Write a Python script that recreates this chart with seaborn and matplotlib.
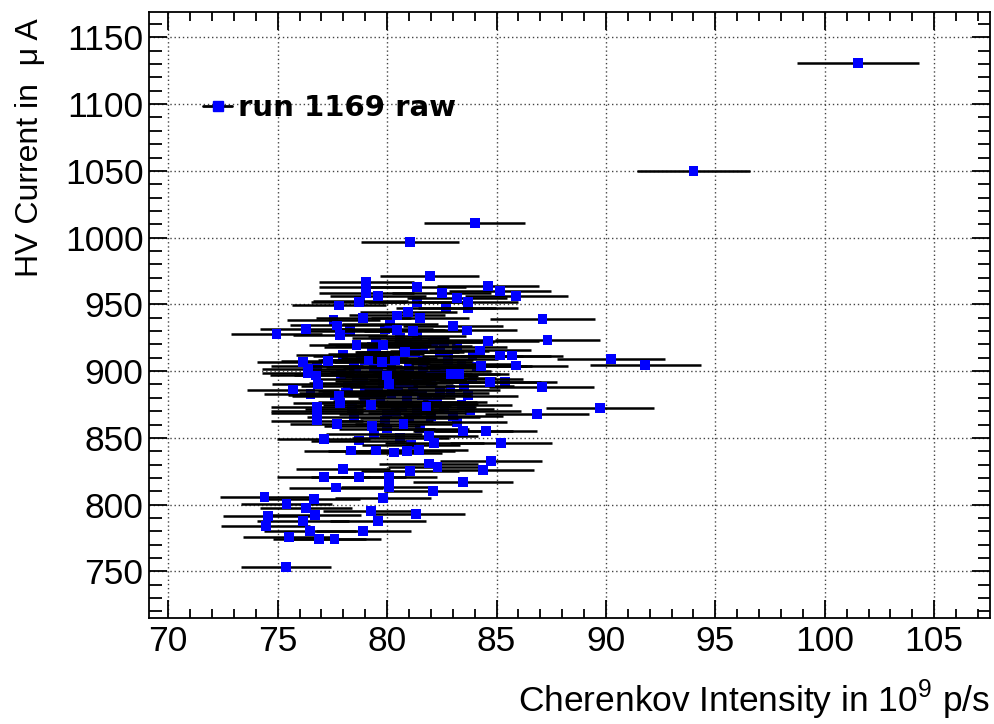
import numpy as np
import pandas as pd
import matplotlib
matplotlib.use("Agg")
import matplotlib.pyplot as plt
import seaborn as sns
from matplotlib.ticker import MultipleLocator
from matplotlib.lines import Line2D

# ---- data: Cherenkov intensity (1e9 p/s) vs HV current (uA) ----
# points in the dense core (largely hidden by the error bars drawn over them)
core_intensity = [
    78.77, 81.35, 82.7, 83.7, 77.55, 80.13, 82.2, 81.05, 81.7, 82.2,
    76.8, 78.5, 80.3, 79.8, 77.6, 76.5, 79.2, 79.6, 81.9, 81.35,
    76.8, 82.6, 82.1, 81.65, 81.3, 83.9, 84.1, 85.4, 83.5, 82.4,
    83.7, 81.85, 83.8, 83.0, 79.9, 81.35, 79.5, 80.75, 79.0, 79.9,
    80.8, 81.65, 81.65, 78.6, 80.5, 81.2, 82.0, 80.9, 79.7, 80.4,
    82.6, 81.0, 79.9, 78.5, 78.2, 78.9, 81.4, 82.7, 80.2, 78.0,
    79.5, 82.8, 80.6, 83.2, 78.3, 79.0, 80.0, 81.5, 83.2,
    79.3, 80.9, 82.4, 78.8, 80.1, 83.4, 79.4, 81.0, 82.5, 77.9,
    79.6, 81.9, 83.9, 78.6, 80.8, 82.9, 78.1, 80.2, 81.6, 79.0,
    82.3, 80.7, 78.4, 83.4, 80.0, 82.0, 79.4, 80.6, 78.7, 81.1,
]
core_current = [
    952.5, 952.0, 947.0, 947.0, 938.0, 935.0, 923.0, 914.0, 908.0, 902.0,
    904.0, 904.0, 895.5, 892.5, 882.0, 883.0, 883.5, 883.5, 875.5, 868.5,
    870.0, 921.7, 921.5, 918.5, 914.0, 911.7, 903.5, 891.7, 888.7, 883.5,
    881.7, 877.0, 870.5, 866.5, 931.7, 926.0, 920.5, 914.5, 908.5, 897.5,
    897.5, 906.7, 898.0, 900.0, 888.0, 886.0, 892.0, 880.0, 878.0, 870.0,
    872.0, 865.0, 863.0, 866.0, 889.0, 894.0, 893.0, 895.0, 902.0, 912.0,
    913.0, 909.0, 925.0, 918.0, 930.0, 885.0, 857.0, 857.0, 862.0,
    918.0, 921.0, 915.0, 911.0, 910.0, 905.0, 903.0, 903.0, 900.0, 897.0,
    899.0, 896.0, 894.0, 891.0, 891.0, 886.0, 884.0, 883.0, 882.0, 877.0,
    877.0, 874.0, 872.0, 875.0, 868.0, 866.0, 853.0, 850.0, 848.0, 845.0,
]
# clearly visible points
intensity = [
    101.5, 94.0, 84.0, 81.05, 81.95, 79.05, 79.05, 81.35, 84.6, 85.15,
    85.9, 79.05, 79.6, 82.5, 83.2, 83.7, 77.8, 78.7, 80.45, 78.9,
    80.97, 81.5, 87.1, 77.7, 83.0, 77.85, 80.45, 81.17, 83.64, 76.3,
    74.95, 87.33, 84.6, 78.6, 79.8, 80.8, 84.25, 85.16, 85.7, 77.3,
    79.15, 80.36, 79.75, 76.17, 85.9, 84.3, 90.23, 91.8, 76.4, 76.75,
    76.4, 80.0, 82.9, 83.3, 76.86, 80.07, 84.7, 87.07, 75.7, 77.8,
    77.85, 79.25, 76.8, 81.8, 89.73, 76.8, 86.84, 76.8, 77.7, 79.3,
    80.75, 81.9, 83.48, 84.52, 85.2, 82.15, 77.1, 78.35, 79.5, 80.3,
    81.45, 80.9, 84.74, 81.9, 82.3, 78.0, 81.05, 84.4, 77.1, 78.7,
    80.1, 83.48, 77.67, 80.1, 82.1, 74.4, 76.65, 79.83, 75.4, 76.3,
    79.27, 81.33, 76.7, 74.57, 76.17, 79.6, 74.45, 76.48, 78.9, 75.5,
    76.9, 77.6, 75.38,
]
current = [
    1131.0, 1050.0, 1011.0, 997.0, 971.5, 966.7, 963.0, 963.0, 964.0, 960.0,
    956.0, 958.5, 956.0, 958.7, 955.0, 951.7, 949.2, 951.7, 941.7, 939.7,
    944.5, 939.7, 939.2, 934.2, 934.0, 927.2, 931.0, 930.0, 930.5, 931.7,
    928.0, 923.5, 922.5, 919.7, 919.7, 914.2, 915.5, 911.7, 911.7, 907.7,
    908.0, 908.0, 906.7, 906.7, 904.2, 903.7, 908.8, 904.3, 901.8, 896.8,
    898.5, 896.7, 898.0, 898.0, 890.0, 890.5, 891.7, 888.0, 886.2, 881.7,
    876.0, 874.5, 873.0, 873.5, 872.3, 868.5, 868.0, 863.0, 860.5, 858.8,
    860.6, 851.7, 855.0, 855.0, 846.0, 846.0, 849.2, 840.5, 840.5, 839.0,
    841.0, 840.0, 833.0, 830.8, 828.3, 827.0, 825.5, 826.0, 820.5, 821.0,
    821.0, 816.7, 812.8, 813.5, 810.5, 805.5, 804.0, 805.0, 800.5, 797.3,
    795.5, 793.2, 792.5, 791.2, 787.5, 788.0, 784.2, 780.5, 780.5, 776.0,
    774.2, 774.2, 753.0,
]
REL_ERR = 0.0275          # relative uncertainty on the intensity
legend_label = "run 1169 raw"
x_title = r"Cherenkov Intensity in 10$^{9}$ p/s"
y_title = "HV Current in  μ A"

core = pd.DataFrame({"x": core_intensity, "y": core_current})
main = pd.DataFrame({"x": intensity, "y": current})
core["xerr"] = core["x"] * REL_ERR
main["xerr"] = main["x"] * REL_ERR

sns.set_theme(style="ticks")
plt.rcParams["font.family"] = ["Liberation Sans", "DejaVu Sans"]
plt.rcParams["mathtext.fontset"] = "custom"
plt.rcParams["mathtext.rm"] = "Liberation Sans"
for k in ("text.color", "axes.labelcolor", "xtick.color", "ytick.color",
          "xtick.labelcolor", "ytick.labelcolor", "axes.edgecolor"):
    plt.rcParams[k] = "black"

W, H = 995, 724
fig = plt.figure(figsize=(W / 100, H / 100), dpi=100)
fig.patch.set_facecolor("white")
L, R, T, B = 149, 990, 12, 618
ax = fig.add_axes([L / W, 1 - B / H, (R - L) / W, (B - T) / H])
ax.set_facecolor("white")

blue = "#0000ff"
# hidden core markers first, then all error bars, then visible markers on top
sns.scatterplot(data=core, x="x", y="y", marker="s", s=50, color=blue,
                edgecolor="none", linewidth=0, ax=ax, zorder=2, legend=False)
for df in (core, main):
    ax.errorbar(df["x"], df["y"], xerr=df["xerr"], fmt="none",
                ecolor="black", elinewidth=1.8, capsize=0, zorder=3)
sns.scatterplot(data=main, x="x", y="y", marker="s", s=50, color=blue,
                edgecolor="none", linewidth=0, ax=ax, zorder=4, legend=False)

ax.set_xlim(69.12, 107.55)
ax.set_ylim(715.1, 1169.0)
ax.xaxis.set_major_locator(MultipleLocator(5))
ax.xaxis.set_minor_locator(MultipleLocator(1))
ax.yaxis.set_major_locator(MultipleLocator(50))
ax.yaxis.set_minor_locator(MultipleLocator(10))

ax.grid(True, which="major", color="#444444", linestyle=(0, (1, 2)), linewidth=1.0)
ax.set_axisbelow(True)

for sp in ax.spines.values():
    sp.set_visible(True)
    sp.set_color("black")
    sp.set_linewidth(1.3)

ax.tick_params(axis="both", which="both", direction="in", top=True, right=True,
               color="black", labelcolor="black", width=1.3)
ax.tick_params(axis="x", which="major", length=13, pad=5, labelsize=25.5)
ax.tick_params(axis="x", which="minor", length=6.5)
ax.tick_params(axis="y", which="major", length=13, pad=4, labelsize=25.5)
ax.tick_params(axis="y", which="minor", length=9)

ax.set_xlabel("")
ax.set_ylabel("")
fig.text(R / W, 1 - 700 / H, x_title, ha="right", va="center", fontsize=25.5,
         color="black")
fig.text(30 / W, 1 - 18 / H, y_title, ha="center", va="top", rotation=90,
         fontsize=23, color="black")

handle = Line2D([], [], color="black", lw=2.0, marker="s", markersize=7.5,
                markerfacecolor=blue, markeredgecolor=blue)
leg = ax.legend(handles=[handle], labels=[legend_label], loc="center left",
                bbox_to_anchor=(203 / W, 1 - 108 / H), bbox_transform=fig.transFigure,
                frameon=False, borderpad=0, borderaxespad=0, handlelength=1.0,
                handletextpad=0.2,
                prop={"family": "DejaVu Sans", "weight": "bold", "size": 21})
for t in leg.get_texts():
    t.set_color("black")

fig.savefig("out.png", dpi=100, facecolor="white")
